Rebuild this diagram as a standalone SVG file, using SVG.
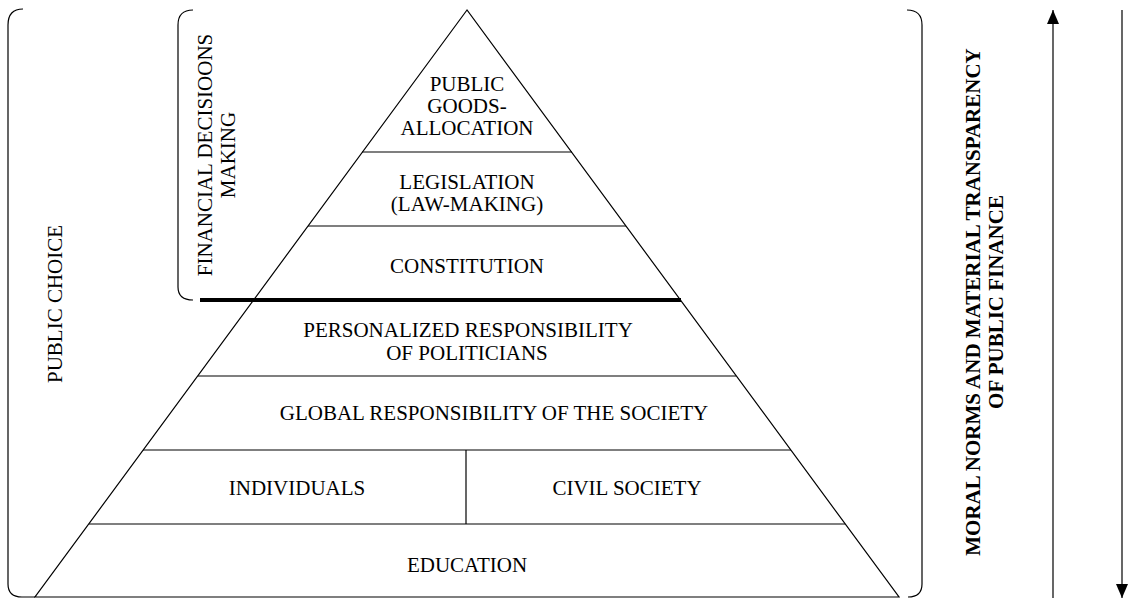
<svg xmlns="http://www.w3.org/2000/svg" width="1131" height="599" viewBox="0 0 1131 599">
<style>
.t{font-family:"Liberation Serif","Times New Roman",serif;font-size:21px;fill:#000;text-anchor:middle}
.b{font-family:"Liberation Serif","Times New Roman",serif;font-size:21px;font-weight:bold;fill:#000;text-anchor:middle}
.ln{stroke:#000;stroke-width:1.2;fill:none}
</style>
<defs>
<marker id="ah" viewBox="0 0 14 12" refX="14" refY="6" markerWidth="14" markerHeight="12" markerUnits="userSpaceOnUse" orient="auto">
<path d="M0,0 L14,6 L0,12 Z" fill="#000"/>
</marker>
</defs>
<rect width="1131" height="599" fill="#fff"/>
<g id="brackets">
<path class="ln" d="M23,9 Q8,9 8,25 L8,584 Q8,597 22,597 L35,597"/>
<path class="ln" d="M907,10 Q922,10 922,25 L922,584 Q922,597 908,597"/>
<path class="ln" d="M193,10 Q178,10 178,25 L178,287 Q178,300 193,300"/>
</g>
<g id="pyramid">
<path class="ln" d="M467,10 L35,597 L899,597 Z"/>
<line class="ln" x1="362" y1="152" x2="572" y2="152"/>
<line class="ln" x1="308" y1="226" x2="626" y2="226"/>
<line stroke="#000" stroke-width="4" x1="200" y1="300" x2="681" y2="300"/>
<line class="ln" x1="198" y1="376" x2="736" y2="376"/>
<line class="ln" x1="143" y1="450" x2="791" y2="450"/>
<line class="ln" x1="89" y1="524" x2="845" y2="524"/>
<line class="ln" x1="466" y1="450" x2="466" y2="524"/>
</g>
<g id="n-public-goods"><text class="t" x="467" y="91">PUBLIC</text><text class="t" x="467" y="113">GOODS-</text><text class="t" x="467" y="135">ALLOCATION</text></g>
<g id="n-legislation"><text class="t" x="467" y="189">LEGISLATION</text><text class="t" x="467" y="211">(LAW-MAKING)</text></g>
<g id="n-constitution"><text class="t" x="467" y="273">CONSTITUTION</text></g>
<g id="n-personalized"><text class="t" x="468" y="337">PERSONALIZED RESPONSIBILITY</text><text class="t" x="467" y="360">OF POLITICIANS</text></g>
<g id="n-global"><text class="t" x="494" y="420">GLOBAL RESPONSIBILITY OF THE SOCIETY</text></g>
<g id="n-individuals"><text class="t" x="297" y="495">INDIVIDUALS</text></g>
<g id="n-civil"><text class="t" x="627" y="495">CIVIL SOCIETY</text></g>
<g id="n-education"><text class="t" x="467" y="572">EDUCATION</text></g>
<g id="n-public-choice"><text class="t" transform="translate(62,304) rotate(-90)">PUBLIC CHOICE</text></g>
<g id="n-financial">
<text class="t" transform="translate(212,155) rotate(-90)">FINANCIAL DECISIOONS</text>
<text class="t" transform="translate(235,155) rotate(-90)">MAKING</text></g>
<g id="n-moral"><text class="b" transform="translate(980,302) rotate(-90)">MORAL NORMS AND MATERIAL TRANSPARENCY</text>
<text class="b" transform="translate(1003,302) rotate(-90)">OF PUBLIC FINANCE</text></g>
<g id="connectors">
<line class="ln" x1="1053" y1="598" x2="1053" y2="10" marker-end="url(#ah)"/>
<line class="ln" x1="1122" y1="10" x2="1122" y2="598" marker-end="url(#ah)"/>
</g>
</svg>
